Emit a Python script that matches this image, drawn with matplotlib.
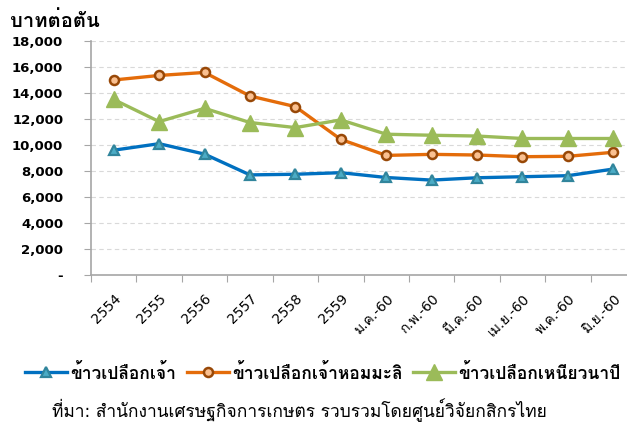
import matplotlib
matplotlib.use('Agg')
import matplotlib.pyplot as plt
from matplotlib.lines import Line2D

categories = ['2554', '2555', '2556', '2557', '2558', '2559',
              'ม.ค.-60', 'ก.พ.-60', 'มี.ค.-60', 'เม.ย.-60', 'พ.ค.-60', 'มิ.ย.-60']
white_rice = [9600, 10100, 9300, 7700, 7750, 7870, 7500, 7300, 7480, 7560, 7640, 8150]
hom_mali = [15000, 15350, 15580, 13770, 12950, 10430, 9200, 9280, 9230, 9100, 9130, 9440]
glutinous = [13500, 11800, 12820, 11730, 11340, 11930, 10830, 10750, 10690, 10500, 10500, 10500]
series_names = ['ข้าวเปลือกเจ้า', 'ข้าวเปลือกเจ้าหอมมะลิ', 'ข้าวเปลือกเหนียวนาปี']
y_ticks = [0, 2000, 4000, 6000, 8000, 10000, 12000, 14000, 16000, 18000]
y_labels = ['-'] + [f'{v:,}' for v in y_ticks[1:]]
unit_label = 'บาทต่อตัน'
source_note = 'ที่มา: สำนักงานเศรษฐกิจการเกษตร รวบรวมโดยศูนย์วิจัยกสิกรไทย'

# Tahoma-like look: DejaVu for digits, Loma picks up the Thai glyphs
plt.rcParams['font.family'] = ['DejaVu Sans', 'Loma', 'Noto Sans Thai Looped']

blue_style = dict(color='#0070C0', lw=2.4, marker='^', ms=7, mfc='#4BACC6', mec='#31859C', mew=1.6)
orange_style = dict(color='#E46C0A', lw=2.4, marker='o', ms=6.5, mfc='#FAC090', mec='#984807', mew=1.8)
green_style = dict(color='#9BBB59', lw=2.4, marker='^', ms=11, mfc='#9BBB59', mec='#9BBB59')

fig = plt.figure(figsize=(6.27, 4.23), dpi=100)
ax = fig.add_axes([91 / 627, 1 - 275 / 423, 545 / 627, 234 / 423])

x = list(range(len(categories)))
ax.plot(x, white_rice, zorder=3, **blue_style)
ax.plot(x, hom_mali, zorder=3, **orange_style)
ax.plot(x, glutinous, zorder=3, **green_style)

ax.set_xlim(-0.5, len(categories) - 0.5)
ax.set_ylim(0, 18000)
ax.set_yticks(y_ticks)
ax.set_yticklabels(y_labels, fontweight='bold', fontsize=9.5)
# category ticks sit between the points, labels under the points
ax.set_xticks([i - 0.5 for i in x])
ax.set_xticklabels([])
ax.set_xticks(x, minor=True)
ax.set_xticklabels(categories, minor=True, rotation=45, ha='right',
                   rotation_mode='anchor', fontsize=10)
ax.tick_params(axis='x', which='major', length=5, color='#A6A6A6')
ax.tick_params(axis='x', which='minor', length=0, pad=12)
ax.tick_params(axis='y', length=5, color='#A6A6A6', pad=15)

ax.grid(axis='y', color='#D9D9D9', ls=(0, (4, 3)), lw=0.8)
ax.set_axisbelow(True)
for side in ['top', 'right']:
    ax.spines[side].set_visible(False)
for side in ['left', 'bottom']:
    ax.spines[side].set_color('#A6A6A6')
    ax.spines[side].set_linewidth(1.2)

fig.text(10 / 627, 1 - 21 / 423, unit_label, fontsize=14.5, fontweight='bold',
         family=['Loma', 'DejaVu Sans'], va='center', ha='left')

handles = [Line2D([], [], **blue_style), Line2D([], [], **orange_style),
           Line2D([], [], **green_style)]
fig.legend(handles, series_names, loc='center', bbox_to_anchor=(0.515, 1 - 373 / 423),
           ncol=3, frameon=False, prop={'weight': 'bold', 'size': 12.5},
           handlelength=2.4, handletextpad=0.2, columnspacing=0.6)

fig.text(52 / 627, 1 - 410 / 423, source_note, fontsize=12.5, va='center', ha='left')

fig.savefig('out.png', dpi=100)
